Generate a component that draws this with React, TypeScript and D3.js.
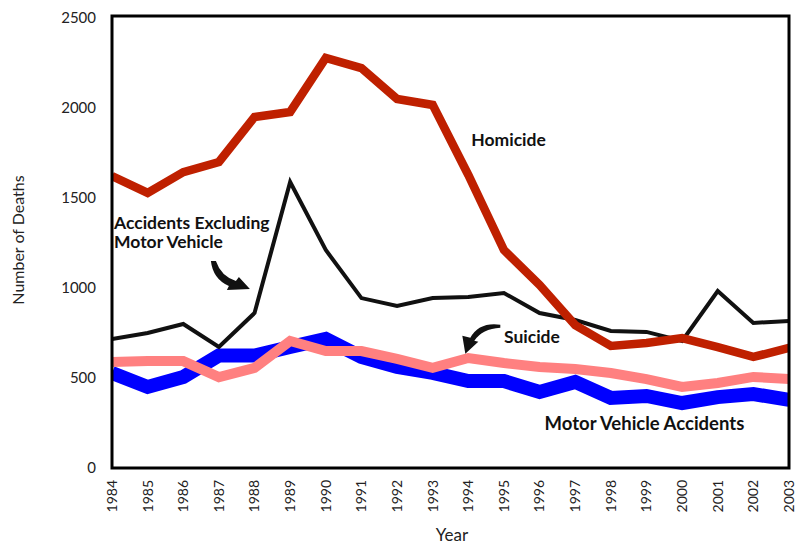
import React from 'react';
import * as d3 from 'd3';

const years = [1984, 1985, 1986, 1987, 1988, 1989, 1990, 1991, 1992, 1993, 1994, 1995, 1996, 1997, 1998, 1999, 2000, 2001, 2002, 2003];
const homicide = [1622, 1528, 1644, 1700, 1950, 1978, 2278, 2222, 2050, 2017, 1628, 1211, 1017, 794, 678, 694, 722, 672, 617, 667];
const accidentsExclMV = [717, 750, 800, 672, 861, 1589, 1211, 944, 900, 944, 950, 972, 861, 822, 761, 756, 706, 983, 806, 817];
const suicide = [589, 594, 594, 505, 556, 706, 650, 650, 606, 556, 611, 583, 561, 550, 528, 494, 450, 472, 506, 494];
const motorVehicle = [528, 450, 505, 625, 625, 672, 717, 617, 561, 528, 483, 483, 422, 478, 389, 400, 361, 394, 411, 378];
const yTicks = [0, 500, 1000, 1500, 2000, 2500];

const W = 798, H = 546;
const left = 112, right = 789, top = 16, bottom = 468;
const font = 'Lato, "Open Sans", sans-serif';

export default function App() {
  const x = d3.scaleLinear().domain([1984, 2003]).range([left, right]);
  const y = d3.scaleLinear().domain([0, 2500]).range([bottom, top + 2]);

  const line = (vals: number[]) =>
    d3.line<number>().x((_, i) => x(years[i])).y(d => y(d))(vals) || '';

  const series = [
    { vals: motorVehicle, color: '#0000ff', width: 14 },
    { vals: suicide, color: '#ff8080', width: 10 },
    { vals: accidentsExclMV, color: '#111111', width: 4 },
    { vals: homicide, color: '#bf2000', width: 8.5 },
  ];

  // annotation anchors derived from scales
  const a1x = x(1987) - 8, a1y = y(1150);
  const a2x = x(1994) - 3, a2y = y(635);

  return (
    <svg width={W} height={H} style={{ position: 'absolute', left: 0, top: 0 }}>
      <rect width={W} height={H} fill="#fff" />
      <defs>
        <clipPath id="plot">
          <rect x={left} y={top} width={right - left} height={bottom - top} />
        </clipPath>
      </defs>
      <g clipPath="url(#plot)">
        {series.map((s, i) => (
          <path key={i} d={line(s.vals)} fill="none" stroke={s.color} strokeWidth={s.width} strokeLinejoin="miter" />
        ))}
      </g>
      <rect x={left} y={top} width={right - left} height={bottom - top} fill="none" stroke="#000" strokeWidth={3} />

      {yTicks.map(t => (
        <text key={t} x={96} y={y(t)} dy="0.35em" textAnchor="end" fontFamily={font} fontSize={15} fill="#222">{t}</text>
      ))}
      {years.map(yr => (
        <text key={yr} transform={`translate(${x(yr)},${bottom + 12}) rotate(-90)`} dy="0.35em" textAnchor="end" fontFamily={font} fontSize={14} fill="#222">{yr}</text>
      ))}
      <text transform={`translate(18,240) rotate(-90)`} dy="0.35em" textAnchor="middle" fontFamily={font} fontSize={16} fill="#222">Number of Deaths</text>
      <text x={452} y={541} textAnchor="middle" fontFamily={font} fontSize={17} fill="#222">Year</text>

      <g fontFamily={font} fontSize={17.5} fontWeight="bold" fill="#111">
        <text x={x(1994) + 3} y={y(1790)}>Homicide</text>
        <text x={114} y={y(1330)}>Accidents Excluding</text>
        <text x={114} y={y(1220)}>Motor Vehicle</text>
        <text x={x(1995)} y={y(695)}>Suicide</text>
        <text x={x(1996) + 5} y={y(210)} fontSize={18.5}>Motor Vehicle Accidents</text>
      </g>

      <path transform={`translate(${a1x},${a1y})`} fill="#111"
        d="M0,0 Q2,18 18,25 L16,29 L39,28 L28,16 L25,20 Q10,15 5,0 Z" />
      <path transform={`translate(${a2x},${a2y})`} fill="#111"
        d="M35,-29 Q14,-32 5,-16 L-3,-18 L0,0 L13,-12 L9,-13 Q17,-25 35,-26 Z" />
    </svg>
  );
}
